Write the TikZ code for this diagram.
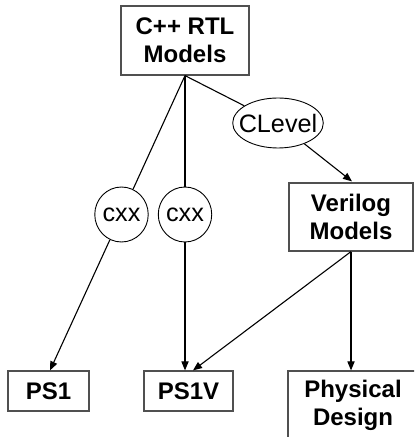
\documentclass[tikz,border=0pt]{standalone}
\usepackage{fontspec}
\setmainfont{Liberation Sans}
\usepackage{tikz}
\usepackage{xcolor}
\usetikzlibrary{arrows.meta,positioning,shapes.geometric,calc}
\definecolor{ink}{HTML}{000000}
\definecolor{boxline}{HTML}{505050}
\tikzset{
  modelbox/.style={draw=boxline,fill=white,line width=0.6pt,
                   align=center,font=\fontsize{12}{14}\selectfont\bfseries,
                   inner sep=0pt},
  toolnode/.style={draw=ink,ellipse,fill=white,line width=0.45pt,
                   inner sep=0pt,font=\fontsize{12.6}{14}\selectfont},
  flowline/.style={line width=0.55pt,color=ink},
  flowarr/.style={-{Triangle[length=4.5pt,width=3.6pt]},line width=0.55pt,color=ink}
}
\begin{document}
\begin{tikzpicture}[x=0.5pt,y=-0.5pt]
  \useasboundingbox (0,0) rectangle (414,437);
  \clip (0,0) rectangle (414,437);
  % model boxes
  \node[modelbox,minimum width=64pt,minimum height=34.5pt] (rtl) at (185,40.5) {C++ RTL\\Models};
  \node[modelbox,minimum width=62pt,minimum height=34pt] (verilog) at (351,217) {Verilog\\Models};
  \node[modelbox,minimum width=40.5pt,minimum height=20pt] (ps1) at (48.5,391) {PS1};
  \node[modelbox,minimum width=44.5pt,minimum height=20pt] (ps1v) at (188.5,391) {PS1V};
  \node[modelbox,minimum width=65pt,minimum height=34pt] (phys) at (353,405) {Physical\\Design};
  % tools
  \node[toolnode,minimum width=24.5pt,minimum height=27.5pt] (cxxa) at (121.5,214.5) {cxx};
  \node[toolnode,minimum width=24.5pt,minimum height=27.5pt] (cxxb) at (185,214.5) {cxx};
  \node[toolnode,inner xsep=-3.6pt,minimum width=44pt,minimum height=25pt] (clevel) at (278,123) {CLevel};
  % connectors
  \draw[flowline] (rtl.south) -- (cxxa);
  \draw[flowarr] (cxxa) -- ($(ps1.north)+(1.5,0)$);
  \draw[flowline] (rtl.south) -- (cxxb);
  \draw[flowarr] (cxxb.south) -- (cxxb.south |- ps1v.north);
  \draw[flowline] (rtl.south) -- (clevel);
  \draw[flowarr] (clevel) -- ($(verilog.north)+(1,-1)$);
  \draw[flowarr] (verilog.south) -- ($(ps1v.north)+(4.5,0)$);
  \draw[flowarr] (verilog.south) -- (verilog.south |- phys.north);
\end{tikzpicture}
\end{document}
